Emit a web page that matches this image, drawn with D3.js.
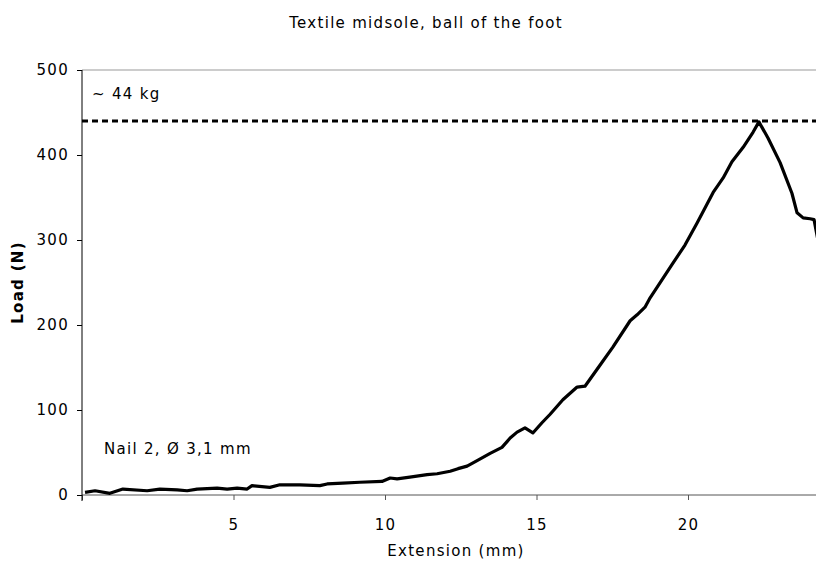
<!DOCTYPE html>
<html>
<head>
<meta charset="utf-8">
<script src="https://cdn.jsdelivr.net/npm/d3@7"></script>
<style>
  body { margin: 0; background: #fff; }
  text { font-family: "DejaVu Sans", Verdana, sans-serif; fill: #000; font-size: 15px; letter-spacing: 1.3px; }
</style>
</head>
<body>
<svg id="chart" width="816" height="565"></svg>
<script>
// extension (mm) and load (N)
const extension = [0.1, 0.43, 0.92, 1.35, 2.15, 2.57, 3.14, 3.47, 3.8, 4.46, 4.79, 5.12, 5.45, 5.61,
  6.2, 6.53, 7.19, 7.85, 8.09, 8.61, 9.17, 9.9, 10.17, 10.4, 10.82, 11.39, 11.72, 12.15, 12.41,
  12.71, 13.07, 13.47, 13.86, 14.13, 14.36, 14.62, 14.88, 15.18, 15.45, 15.87, 16.34, 16.6,
  17.1, 17.52, 18.09, 18.32, 18.58, 18.75, 19.14, 19.47, 19.9, 20.3, 20.83, 21.16, 21.45,
  21.82, 22.15, 22.34, 22.64, 23.04, 23.43, 23.6, 23.8, 24.03, 24.16, 24.5]
const load = [3, 5, 2, 7, 5, 7, 6, 5, 7, 8, 7, 8, 7, 11,
  9, 12, 12, 11, 13, 14, 15, 16, 20, 19, 21, 24, 25, 28, 31,
  34, 41, 49, 56, 67, 74, 79, 73, 85, 95, 112, 127, 128,
  153, 174, 205, 212, 221, 232, 253, 271, 294, 320, 356, 373, 392,
  409, 427, 439, 420, 391, 355, 332, 326, 325, 324, 260]
const xTicks = [0, 5, 10, 15, 20]
const yTicks = [0, 100, 200, 300, 400, 500]
const maxLoad = 440
const maxLabel = '~ 44 kg'
const nailLabel = 'Nail 2, Ø 3,1 mm'
const title = 'Textile midsole, ball of the foot'

const MARGINS = { top: 70, bottom: 70, left: 82 }
const WIDTH = 816
const HEIGHT = 565

const svg = d3.select('#chart')

const xScale = d3.scaleLinear().domain([0, 20]).range([MARGINS.left, 688])
const yScale = d3.scaleLinear().domain([0, 500]).range([HEIGHT - MARGINS.bottom, MARGINS.top])

svg.append('defs').append('clipPath').attr('id', 'plot')
  .append('rect')
  .attr('x', MARGINS.left).attr('y', MARGINS.top - 5)
  .attr('width', WIDTH - MARGINS.left).attr('height', yScale(0) - MARGINS.top + 5)

// top border of the plot area
svg.append('line')
  .attr('x1', MARGINS.left).attr('x2', WIDTH)
  .attr('y1', yScale(500)).attr('y2', yScale(500))
  .attr('stroke', '#999').attr('stroke-width', 1)

const xAxis = d3.axisBottom(xScale).tickValues(xTicks).tickSize(5).tickPadding(19)
  .tickFormat(d => d === 0 ? '' : d)
const gx = svg.append('g')
  .attr('transform', 'translate(0,' + yScale(0) + ')')
  .call(xAxis)
gx.select('.domain').remove()
gx.append('line').attr('x1', MARGINS.left).attr('x2', WIDTH).attr('stroke', '#555')
gx.selectAll('.tick line').attr('stroke', '#555')
gx.selectAll('.tick text').attr('fill', '#000')

const yAxis = d3.axisLeft(yScale).tickValues(yTicks).tickSize(5).tickPadding(8)
const gy = svg.append('g')
  .attr('transform', 'translate(' + MARGINS.left + ',0)')
  .call(yAxis)
gy.select('.domain').attr('d', 'M0,' + yScale(500) + 'V' + (yScale(0) + 6)).attr('stroke', '#000')
gy.selectAll('.tick text').attr('fill', '#000')
gx.attr('font-size', null).attr('font-family', null)
gy.attr('font-size', null).attr('font-family', null)

// peak load marker
svg.append('line')
  .attr('x1', MARGINS.left).attr('x2', WIDTH)
  .attr('y1', yScale(maxLoad)).attr('y2', yScale(maxLoad))
  .attr('stroke', '#000').attr('stroke-width', 3)
  .attr('stroke-dasharray', '6,4')

const points = extension.map((e, i) => ({ x: e, y: load[i] }))
const lineGen = d3.line().x(d => xScale(d.x)).y(d => yScale(d.y))

svg.append('path')
  .attr('clip-path', 'url(#plot)')
  .attr('d', lineGen(points))
  .attr('fill', 'none')
  .attr('stroke', '#000')
  .attr('stroke-width', 3.2)
  .attr('stroke-linejoin', 'round')

svg.append('text')
  .attr('x', 426).attr('y', 28)
  .attr('text-anchor', 'middle')
  .text(title)

svg.append('text')
  .attr('x', 456).attr('y', 556)
  .attr('text-anchor', 'middle')
  .text('Extension (mm)')

svg.append('text')
  .attr('transform', 'translate(23,' + ((yScale(0) + yScale(500)) / 2) + ') rotate(-90)')
  .attr('text-anchor', 'middle')
  .style('font-weight', 'bold')
  .text('Load (N)')

svg.append('text')
  .attr('x', 92).attr('y', 99)
  .text(maxLabel)

svg.append('text')
  .attr('x', 104).attr('y', 454)
  .text(nailLabel)
</script>
</body>
</html>
